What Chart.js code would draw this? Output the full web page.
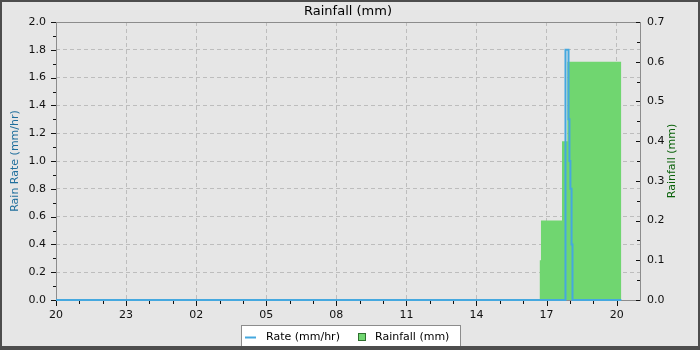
<!DOCTYPE html>
<html>
<head>
<meta charset="utf-8">
<title>Rainfall (mm)</title>
<script src="https://cdn.jsdelivr.net/npm/chart.js@4.4.0/dist/chart.umd.min.js"></script>
<style>
    body { margin: 0; background: #e6e6e6; }
    #wrap { width: 700px; height: 350px; }
</style>
</head>
<body>
<div id="wrap"><canvas id="rainChart" width="700" height="350"></canvas></div>
<script>
// hours since 20:00 on the first day
var rateTimes = [0, 21.81, 21.94, 21.98, 22.02, 22.07, 22.11, 24.2];
var rateValues = [0, 1.8, 1.3, 1.0, 0.8, 0.4, 0, 0];

var rainTimes = [0, 20.71, 20.76, 21.66, 21.89, 24.2];
var rainValues = [0, 0.1, 0.2, 0.4, 0.6, 0.6];

var startHour = 20;
var hourSpan = 25;

var legendLabels = ['Rate (mm/hr)', 'Rainfall (mm)'];
var FONT = "'DejaVu Sans', sans-serif";
var BLUE = '#45a8df';
var GREEN = '#70d670';

function toPoints(xs, ys) {
    return xs.map(function (x, i) { return { x: x, y: ys[i] }; });
}

function hourLabel(v) {
    var h = (startHour + v) % 24;
    return (h < 10 ? '0' : '') + h;
}

// background, frame, tick marks, title, axis titles, legend, outer border
var decorations = {
    id: 'decorations',
    beforeDraw: function (chart) {
        var ctx = chart.ctx;
        ctx.save();
        ctx.fillStyle = '#e6e6e6';
        ctx.fillRect(0, 0, chart.width, chart.height);
        ctx.restore();
    },
    beforeDatasetsDraw: function (chart) {
        var ctx = chart.ctx;
        var a = chart.chartArea;
        ctx.save();
        // plot frame (under the data lines)
        ctx.strokeStyle = '#8c8c8c';
        ctx.lineWidth = 1;
        ctx.strokeRect(Math.round(a.left) + 0.5, Math.round(a.top) + 0.5,
            Math.round(a.right - a.left), Math.round(a.bottom - a.top));
        ctx.restore();
    },
    afterDraw: function (chart) {
        var ctx = chart.ctx;
        var a = chart.chartArea;
        var sx = chart.scales.x, sy = chart.scales.y, sy1 = chart.scales.y1;
        ctx.save();

        // tick marks
        ctx.strokeStyle = '#111';
        ctx.lineWidth = 1;
        ctx.beginPath();
        var i, p, len;
        for (i = 0; i <= 24; i++) {
            p = Math.round(sx.getPixelForValue(i)) + 0.5;
            len = (i % 3 === 0) ? 5 : 3;
            ctx.moveTo(p, a.bottom + 1);
            ctx.lineTo(p, a.bottom + 1 + len);
        }
        for (i = 0; i <= 20; i++) {
            p = Math.round(sy.getPixelForValue(i / 10)) + 0.5;
            len = (i % 2 === 0) ? 5 : 3;
            ctx.moveTo(a.left, p);
            ctx.lineTo(a.left - len, p);
        }
        for (i = 0; i <= 14; i++) {
            p = Math.round(sy1.getPixelForValue(i / 20)) + 0.5;
            len = (i % 2 === 0) ? 4 : 3;
            ctx.moveTo(a.right, p);
            ctx.lineTo(a.right - len, p);
        }
        ctx.stroke();

        // chart title
        ctx.fillStyle = '#000';
        ctx.font = '13px ' + FONT;
        ctx.textAlign = 'center';
        ctx.textBaseline = 'middle';
        ctx.fillText('Rainfall (mm)', (a.left + a.right) / 2, 12);

        // axis titles
        ctx.font = '11px ' + FONT;
        var midY = (a.top + a.bottom) / 2;
        ctx.save();
        ctx.translate(15, midY);
        ctx.rotate(-Math.PI / 2);
        ctx.fillStyle = '#1f6e9c';
        ctx.fillText('Rain Rate (mm/hr)', 0, 0);
        ctx.restore();
        ctx.save();
        ctx.translate(672, midY);
        ctx.rotate(-Math.PI / 2);
        ctx.fillStyle = '#0b620b';
        ctx.fillText('Rainfall (mm)', 0, 0);
        ctx.restore();

        // legend
        ctx.fillStyle = '#ffffff';
        ctx.fillRect(241, 325, 219, 22);
        ctx.strokeStyle = '#8c8c8c';
        ctx.strokeRect(241.5, 325.5, 219, 22);
        ctx.strokeStyle = BLUE;
        ctx.lineWidth = 2;
        ctx.beginPath();
        ctx.moveTo(245, 337.5);
        ctx.lineTo(256, 337.5);
        ctx.stroke();
        ctx.fillStyle = GREEN;
        ctx.fillRect(358, 333, 7, 7);
        ctx.lineWidth = 1;
        ctx.strokeStyle = '#2f6f2f';
        ctx.strokeRect(358.5, 333.5, 7, 7);
        ctx.fillStyle = '#000';
        ctx.textAlign = 'left';
        ctx.fillText(legendLabels[0], 266, 337);
        ctx.fillText(legendLabels[1], 375, 337);

        // outer border
        ctx.fillStyle = '#4d4d4d';
        ctx.fillRect(0, 0, chart.width, 2);
        ctx.fillRect(0, 0, 2, chart.height);
        ctx.fillRect(chart.width - 2, 0, 2, chart.height);
        ctx.fillRect(0, chart.height - 4, chart.width, 4);

        ctx.restore();
    }
};

var ctx = document.getElementById('rainChart').getContext('2d');

var myChart = new Chart(ctx, {
    type: 'line',
    data: {
        datasets: [
            {
                label: legendLabels[0],
                data: toPoints(rateTimes, rateValues),
                yAxisID: 'y',
                borderColor: BLUE,
                borderWidth: 2,
                stepped: 'before',
                pointRadius: 0,
                clip: 2,
                fill: false
            },
            {
                label: legendLabels[1],
                data: toPoints(rainTimes, rainValues),
                yAxisID: 'y1',
                borderWidth: 0,
                borderColor: 'rgba(0,0,0,0)',
                backgroundColor: GREEN,
                stepped: 'before',
                pointRadius: 0,
                fill: 'origin'
            }
        ]
    },
    options: {
        responsive: false,
        animation: false,
        devicePixelRatio: 1,
        layout: { padding: { top: 22, left: 0, right: 0, bottom: 0 } },
        plugins: {
            legend: { display: false },
            title: { display: false },
            tooltip: { enabled: false }
        },
        scales: {
            x: {
                type: 'linear',
                min: 0,
                max: hourSpan,
                afterFit: function (scale) { scale.height = 50; },
                border: { display: false, dash: [4, 3] },
                grid: {
                    drawTicks: false,
                    lineWidth: 1,
                    color: function (c) {
                        return (c.tick && c.tick.value > 0) ? '#bdbdbd' : 'rgba(0,0,0,0)';
                    }
                },
                ticks: {
                    stepSize: 3,
                    includeBounds: false,
                    maxRotation: 0,
                    autoSkip: false,
                    padding: 9,
                    color: '#111',
                    font: { family: FONT, size: 11 },
                    callback: function (v) { return hourLabel(v); }
                }
            },
            y: {
                position: 'left',
                min: 0,
                max: 2,
                afterFit: function (scale) { scale.width = 56; },
                border: { display: false, dash: [4, 3] },
                grid: {
                    drawTicks: false,
                    color: function (c) {
                        var v = c.tick ? c.tick.value : 0;
                        return (v > 0.01 && v < 1.99) ? '#bdbdbd' : 'rgba(0,0,0,0)';
                    }
                },
                ticks: {
                    stepSize: 0.2,
                    padding: 10,
                    color: '#111',
                    font: { family: FONT, size: 11 },
                    callback: function (v) { return v.toFixed(1); }
                }
            },
            y1: {
                position: 'right',
                min: 0,
                max: 0.7,
                afterFit: function (scale) { scale.width = 60; },
                border: { display: false },
                grid: { drawTicks: false, drawOnChartArea: false },
                ticks: {
                    stepSize: 0.1,
                    padding: 7,
                    color: '#111',
                    font: { family: FONT, size: 11 },
                    callback: function (v) { return v.toFixed(1); }
                }
            }
        }
    },
    plugins: [decorations]
});
</script>
</body>
</html>
